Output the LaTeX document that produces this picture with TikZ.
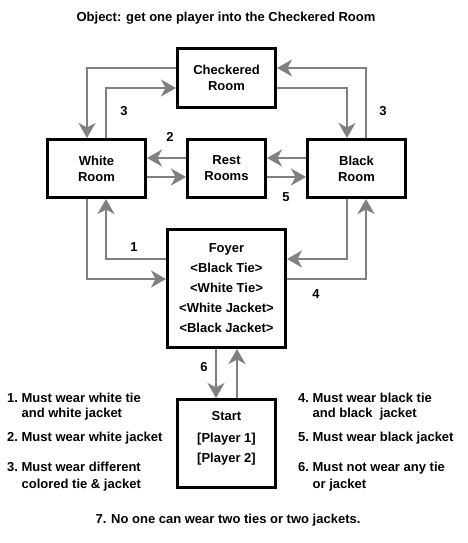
\documentclass[tikz,border=0pt]{standalone}
\usepackage{fontspec}
\setmainfont{Liberation Sans}
\usepackage{tikz}
\usetikzlibrary{arrows.meta}
\newcommand\roomfont{\fontsize{13}{16}\selectfont\bfseries}
\newcommand\rulenote[2]{\begin{tabular}[t]{@{}l@{\ }l@{}}#1&#2\end{tabular}}
\tikzset{
  % Stile per le stanze
  room/.style={draw, line width=3pt, minimum width=98pt, minimum height=58pt,
    inner sep=0pt, align=center, font=\roomfont},
  % Stile per le frecce grigie
  move/.style={draw=black!50, line width=2.5pt, line join=miter,
    -{Stealth[length=15pt, width=17pt, inset=4.5pt]}},
  % Stile per i numeri e le note
  rulenum/.style={font=\roomfont, inner sep=0pt},
  note/.style={anchor=base west, inner sep=0pt, font=\roomfont}
}

\begin{document}
\begin{tikzpicture}[x=1pt, y=1pt]
  \useasboundingbox (0,0) rectangle (467,543);

  \node[rulenum] (title) at (226,525) {Object: get one player into the Checkered Room};

  \node[room, minimum height=59pt] (checkered) at (226.5,465) {Checkered\\Room};
  \node[room] (white) at (96.5,374.5) {White\\Room};
  \node[room, minimum width=78pt] (rest) at (226.5,374.5) {Rest\\Rooms};
  \node[room] (black) at (356.5,374.5) {Black\\Room};
  \node[room, minimum width=118pt, minimum height=118pt] (foyer) at (226.5,254.5)
    {Foyer\\[4pt]<Black Tie>\\[4pt]<White Tie>\\[4pt]<White Jacket>\\[4pt]<Black Jacket>};
  \node[room, minimum height=88pt] (start) at (226.5,99.5) {};
  \node[rulenum, align=center] (starttext) at ([yshift=5.5pt]start.center)
    {Start\\[6pt]{[Player 1]}\\[4pt]{[Player 2]}};

  % frecce tra le stanze
  \draw[move] ([yshift=10pt]checkered.west) -| ([xshift=-9.5pt]white.north);
  \draw[move] ([xshift=9.5pt]white.north) |- ([yshift=-10pt]checkered.west);
  \draw[move] ([yshift=-10pt]checkered.east) -| ([xshift=-9.5pt]black.north);
  \draw[move] ([xshift=9.5pt]black.north) |- ([yshift=10pt]checkered.east);

  \draw[move] ([yshift=10.5pt]rest.west) -- ([yshift=10.5pt]white.east);
  \draw[move] ([yshift=-8.5pt]white.east) -- ([yshift=-8.5pt]rest.west);
  \draw[move] ([yshift=10.5pt]black.west) -- ([yshift=10.5pt]rest.east);
  \draw[move] ([yshift=-8.5pt]rest.east) -- ([yshift=-8.5pt]black.west);

  \draw[move] ([xshift=-9.5pt]white.south) |- ([yshift=9.5pt]foyer.west);
  \draw[move] ([yshift=29.5pt]foyer.west) -| ([xshift=9.5pt]white.south);
  \draw[move] ([xshift=-9.5pt]black.south) |- ([yshift=29.5pt]foyer.east);
  \draw[move] ([yshift=9.5pt]foyer.east) -| ([xshift=9.5pt]black.south);

  \draw[move] ([xshift=-10.5pt]foyer.south) -- ([xshift=-10.5pt]start.north);
  \draw[move] ([xshift=10.5pt]start.north) -- ([xshift=10.5pt]foyer.south);

  % numeri delle regole
  \node[rulenum] (num3a) at (124,432) {3};
  \node[rulenum] (num3b) at (383,432) {3};
  \node[rulenum] (num2) at (170,406) {2};
  \node[rulenum] (num5) at (286,346) {5};
  \node[rulenum] (num1) at (134,296) {1};
  \node[rulenum] (num4) at (316,249) {4};
  \node[rulenum] (num6) at (204,176) {6};

  % le regole
  \node[note] (note1) at (7,140) {\rulenote{1.}{Must wear white tie\\[-1pt]&and white jacket}};
  \node[note] (note2) at (7,101) {\rulenote{2.}{Must wear white jacket}};
  \node[note] (note3) at (7,71) {\rulenote{3.}{Must wear different\\[1pt]&colored tie \& jacket}};
  \node[note] (note4) at (298,140) {\rulenote{4.}{Must wear black tie\\[-1pt]&and black\ \ jacket}};
  \node[note] (note5) at (298,101) {\rulenote{5.}{Must wear black jacket}};
  \node[note] (note6) at (298,71) {\rulenote{6.}{Must not wear any tie\\[1pt]&or jacket}};

  \node[rulenum] (note7) at (228,23) {7. No one can wear two ties or two jackets.};
\end{tikzpicture}
\end{document}
